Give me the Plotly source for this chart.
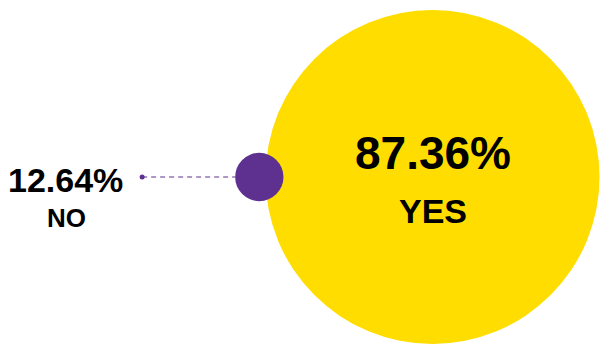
import plotly.graph_objects as go

# Survey answer shares (percent)
labels = ["YES", "NO"]
values = [87.36, 12.64]
colors = ["#FFDD00", "#5E3190"]

W, H = 600, 345
px_per_pct = 1.912          # circle radius in px per percentage point
yes_cx, mid_y = 432.5, 177.0
overlap = 18.0              # how far the small bubble tucks into the big one
leader_len = 93.0           # dashed leader from the small bubble to its label

r_yes = values[0] * px_per_pct
r_no = values[1] * px_per_pct
no_cx = yes_cx - r_yes - r_no + overlap
leader_x0 = no_cx - r_no - leader_len

fig = go.Figure()

# dashed leader line with a small dot at its end
fig.add_trace(go.Scatter(
    x=[leader_x0, no_cx - r_no], y=[mid_y, mid_y], mode="lines",
    line=dict(color=colors[1], width=1.2, dash="5px,4px"),
    hoverinfo="skip", showlegend=False))
fig.add_trace(go.Scatter(
    x=[leader_x0], y=[mid_y], mode="markers",
    marker=dict(color=colors[1], size=5, line=dict(width=0)),
    hoverinfo="skip", showlegend=False))

# bubbles: radius proportional to share
fig.add_trace(go.Scatter(
    x=[yes_cx, no_cx], y=[mid_y, mid_y], mode="markers",
    marker=dict(color=colors, size=[2 * r_yes, 2 * r_no],
                sizemode="diameter", opacity=1, line=dict(width=0)),
    text=labels, hoverinfo="text", showlegend=False))

font = "Liberation Sans, Arial, Helvetica, sans-serif"
# big bubble labels
fig.add_annotation(x=433, y=153, text=f"<b>{values[0]:.2f}%</b>",
                   showarrow=False, font=dict(family=font, size=46, color="#000"))
fig.add_annotation(x=yes_cx, y=211, text=f"<b>{labels[0]}</b>",
                   showarrow=False, font=dict(family=font, size=34, color="#000"))
# small bubble labels
fig.add_annotation(x=65, y=180, text=f"<b>{values[1]:.2f}%</b>",
                   showarrow=False, font=dict(family=font, size=34, color="#000"))
fig.add_annotation(x=66, y=218, text=f"<b>{labels[1]}</b>",
                   showarrow=False, font=dict(family=font, size=26, color="#000"))

fig.update_layout(
    width=W, height=H, margin=dict(l=0, r=0, t=0, b=0),
    paper_bgcolor="white", plot_bgcolor="white",
    xaxis=dict(range=[0, W], visible=False, fixedrange=True),
    yaxis=dict(range=[H, 0], visible=False, fixedrange=True),
)

fig.write_html("out.html")
